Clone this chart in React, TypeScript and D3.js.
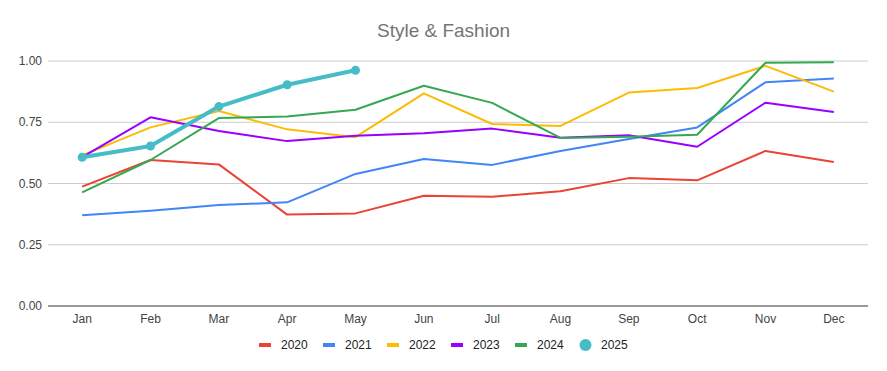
import React, { useEffect } from "react"
import * as d3 from "d3"

// ---------- Data ----------
const months = ["Jan", "Feb", "Mar", "Apr", "May", "Jun", "Jul", "Aug", "Sep", "Oct", "Nov", "Dec"]
const yTicks = [0, 0.25, 0.5, 0.75, 1]

const s2020 = [0.487, 0.596, 0.578, 0.373, 0.378, 0.45, 0.446, 0.468, 0.522, 0.513, 0.633, 0.588]
const s2021 = [0.37, 0.389, 0.412, 0.423, 0.539, 0.6, 0.576, 0.633, 0.682, 0.729, 0.913, 0.929]
const s2022 = [0.615, 0.729, 0.796, 0.721, 0.689, 0.868, 0.743, 0.735, 0.871, 0.89, 0.98, 0.875]
const s2023 = [0.608, 0.77, 0.714, 0.673, 0.695, 0.705, 0.724, 0.687, 0.697, 0.65, 0.83, 0.792]
const s2024 = [0.464, 0.596, 0.767, 0.773, 0.801, 0.899, 0.829, 0.686, 0.691, 0.699, 0.993, 0.995]
const s2025 = [0.607, 0.653, 0.814, 0.903, 0.962]

const series = [
    { name: "2020", values: s2020, color: "#ea4335" },
    { name: "2021", values: s2021, color: "#4285f4" },
    { name: "2022", values: s2022, color: "#fbbc04" },
    { name: "2023", values: s2023, color: "#9900ff" },
    { name: "2024", values: s2024, color: "#34a853" },
    { name: "2025", values: s2025, color: "#46bdc6", dots: true },
]

const W = 887
const H = 371
const margin = { top: 61, right: 19, bottom: 65, left: 48 }
const font = "'Liberation Sans', Arial, sans-serif"

export default function App() {
    useEffect(() => {
        document.body.style.margin = "0"
    }, [])

    const x = d3.scaleBand<string>()
        .domain(months)
        .range([margin.left, W - margin.right])
    const y = d3.scaleLinear()
        .domain([0, 1])
        .range([H - margin.bottom, margin.top])

    const line = d3.line<number>()
        .x((_, i) => (x(months[i]) ?? 0) + x.bandwidth() / 2)
        .y(d => y(d))

    const legendX0 = 259
    const legendStep = 64
    const legendY = 345

    return (
        <svg width={W} height={H} style={{ display: "block", background: "#fff" }}>
            <text x={443.5} y={37} textAnchor="middle" fill="#757575" fontSize={19} fontFamily={font}>
                Style &amp; Fashion
            </text>

            {/* grid + y labels */}
            {yTicks.map(t => (
                <g key={t}>
                    <line
                        x1={margin.left} x2={W - margin.right}
                        y1={y(t)} y2={y(t)}
                        stroke={t === 0 ? "#333" : "#ccc"} strokeWidth={1}
                    />
                    <text x={42} y={y(t) + 4} textAnchor="end" fill="#444" fontSize={12} fontFamily={font}>
                        {t.toFixed(2)}
                    </text>
                </g>
            ))}

            {/* x labels */}
            {months.map(m => (
                <text key={m} x={(x(m) ?? 0) + x.bandwidth() / 2} y={323}
                    textAnchor="middle" fill="#444" fontSize={12} fontFamily={font}>
                    {m}
                </text>
            ))}

            {/* lines */}
            {series.map(s => (
                <g key={s.name}>
                    <path d={line(s.values) ?? ""} fill="none" stroke={s.color}
                        strokeWidth={s.dots ? 4 : 2} strokeLinejoin="round" />
                    {s.dots && s.values.map((v, i) => (
                        <circle key={i} cx={(x(months[i]) ?? 0) + x.bandwidth() / 2} cy={y(v)}
                            r={4.5} fill={s.color} />
                    ))}
                </g>
            ))}

            {/* legend */}
            {series.map((s, i) => {
                const lx = legendX0 + i * legendStep
                return (
                    <g key={s.name}>
                        {s.dots
                            ? <circle cx={lx + 6.5} cy={legendY} r={6} fill={s.color} />
                            : <rect x={lx} y={legendY - 2} width={12} height={4} fill={s.color} />}
                        <text x={lx + 22} y={legendY + 4} fill="#222" fontSize={12} fontFamily={font}>
                            {s.name}
                        </text>
                    </g>
                )
            })}
        </svg>
    )
}
